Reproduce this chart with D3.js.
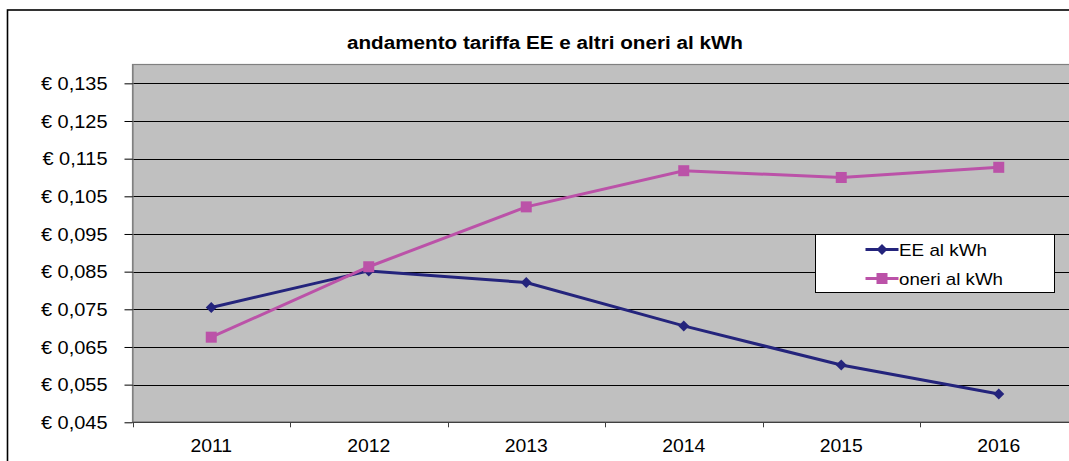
<!DOCTYPE html>
<html>
<head>
<meta charset="utf-8">
<script src="https://cdn.jsdelivr.net/npm/d3@7"></script>
<style>
  body { margin: 0; background: #fff; }
  svg { display: block; font-family: "Liberation Sans", Arial, sans-serif; }
</style>
</head>
<body>
<div id="chart"></div>
<script>
// chart data
const years = ["2011", "2012", "2013", "2014", "2015", "2016"];
const eeValues = [0.0755, 0.0852, 0.0821, 0.0706, 0.0602, 0.0525];
const oneriValues = [0.0676, 0.0863, 0.1022, 0.1118, 0.1100, 0.1127];
const yTicks = [0.045, 0.055, 0.065, 0.075, 0.085, 0.095, 0.105, 0.115, 0.125, 0.135];
const seriesNames = ["EE al kWh", "oneri al kWh"];

const W = 1069, H = 461;
const plot = { left: 132.5, right: 1077.5, top: 64.5, bottom: 422.3 };
const eeColor = "#24247c";
const oneriColor = "#bb52a8";

const svg = d3.select("#chart")
  .append("svg")
  .attr("width", W)
  .attr("height", H);

// the original font runs a bit wide, so stretch to a target width
function fitTo(sel, width) {
  sel.attr("textLength", width).attr("lengthAdjust", "spacingAndGlyphs");
}
function widen(sel, f) {
  sel.each(function() {
    fitTo(d3.select(this), this.getComputedTextLength() * f);
  });
}

// outer chart border
svg.append("rect")
  .attr("x", 7.5).attr("y", 10)
  .attr("width", W + 20).attr("height", H + 20)
  .attr("fill", "#fff")
  .attr("stroke", "#000")
  .attr("stroke-width", 1.6);

// title
const title = svg.append("text")
  .attr("x", 545).attr("y", 48.5)
  .attr("text-anchor", "middle")
  .style("font-size", "17.5px")
  .style("font-weight", "bold")
  .text("andamento tariffa EE e altri oneri al kWh");
fitTo(title, 396);

// scales
const xScale = d3.scaleBand()
  .domain(years)
  .range([plot.left, plot.right])
  .padding(0);

const yScale = d3.scaleLinear()
  .domain([0.045, 0.140])
  .range([plot.bottom, plot.top]);

// plot area
svg.append("rect")
  .attr("x", plot.left).attr("y", plot.top)
  .attr("width", plot.right - plot.left)
  .attr("height", plot.bottom - plot.top)
  .attr("fill", "#c0c0c0")
  .attr("stroke", "#808080")
  .attr("stroke-width", 1.2);

// gridlines
svg.append("g")
  .selectAll("line")
  .data(yTicks.slice(1))
  .enter()
  .append("line")
  .attr("x1", plot.left).attr("x2", plot.right)
  .attr("y1", d => Math.round(yScale(d)) + 0.5)
  .attr("y2", d => Math.round(yScale(d)) + 0.5)
  .attr("stroke", "#000")
  .attr("stroke-width", 1);

// y axis
const fmt = d => "€ " + d3.format(".3f")(d).replace(".", ",");
const yAxis = d3.axisLeft(yScale)
  .tickValues(yTicks)
  .tickFormat(fmt)
  .tickSizeInner(8)
  .tickSizeOuter(0)
  .tickPadding(17);

const gy = svg.append("g")
  .attr("transform", `translate(${plot.left},0)`)
  .call(yAxis);
gy.attr("font-size", null).attr("font-family", null);
gy.select(".domain").attr("stroke", "#808080").attr("stroke-width", 1.2);
gy.selectAll(".tick line").attr("stroke", "#000");
gy.selectAll(".tick text")
  .attr("fill", "#000")
  .style("font-size", "19px");
widen(gy.selectAll(".tick text"), 1.05);

// x axis: ticks sit between categories
const gx = svg.append("g")
  .attr("transform", `translate(0,${plot.bottom})`);
gx.append("line")
  .attr("x1", plot.left).attr("x2", plot.right)
  .attr("stroke", "#404040").attr("stroke-width", 1.2);
gx.selectAll(".sep")
  .data(years)
  .enter()
  .append("line")
  .attr("class", "sep")
  .attr("x1", d => Math.round(xScale(d)) + 0.5)
  .attr("x2", d => Math.round(xScale(d)) + 0.5)
  .attr("y1", 0).attr("y2", 5)
  .attr("stroke", "#404040");
const xl = gx.selectAll(".lab")
  .data(years)
  .enter()
  .append("text")
  .attr("class", "lab")
  .attr("x", d => xScale(d) + xScale.bandwidth() / 2)
  .attr("y", 29.5)
  .attr("text-anchor", "middle")
  .style("font-size", "19px")
  .text(d => d);
widen(xl, 1.02);

// lines
const cx = d => xScale(d) + xScale.bandwidth() / 2;
const lineFor = vals => d3.line()
  .x((d, i) => cx(years[i]))
  .y(d => yScale(d))(vals);

svg.append("path")
  .attr("d", lineFor(eeValues))
  .attr("fill", "none")
  .attr("stroke", eeColor)
  .attr("stroke-width", 3);

svg.append("path")
  .attr("d", lineFor(oneriValues))
  .attr("fill", "none")
  .attr("stroke", oneriColor)
  .attr("stroke-width", 3);

// markers
const diamond = (x, y, r) => `M${x},${y - r}L${x + r},${y}L${x},${y + r}L${x - r},${y}Z`;

svg.append("g")
  .selectAll("path")
  .data(eeValues)
  .enter()
  .append("path")
  .attr("d", (d, i) => diamond(cx(years[i]), yScale(d), 5.5))
  .attr("fill", eeColor);

svg.append("g")
  .selectAll("rect")
  .data(oneriValues)
  .enter()
  .append("rect")
  .attr("x", (d, i) => cx(years[i]) - 5.5)
  .attr("y", d => yScale(d) - 5.5)
  .attr("width", 11)
  .attr("height", 11)
  .attr("fill", oneriColor);

// legend
const legend = svg.append("g")
  .attr("transform", "translate(815.5,234.5)");

legend.append("rect")
  .attr("width", 239)
  .attr("height", 58)
  .attr("fill", "#fff")
  .attr("stroke", "#000")
  .attr("stroke-width", 1);

const rows = [
  { name: seriesNames[0], color: eeColor, y: 15, w: 88 },
  { name: seriesNames[1], color: oneriColor, y: 44, w: 104 }
];

rows.forEach((r, i) => {
  legend.append("line")
    .attr("x1", 50).attr("x2", 83)
    .attr("y1", r.y).attr("y2", r.y)
    .attr("stroke", r.color)
    .attr("stroke-width", 3);
  if (i === 0) {
    legend.append("path").attr("d", diamond(66.5, r.y, 5.5)).attr("fill", r.color);
  } else {
    legend.append("rect")
      .attr("x", 61).attr("y", r.y - 5.5)
      .attr("width", 11).attr("height", 11)
      .attr("fill", r.color);
  }
  const t = legend.append("text")
    .attr("x", 83.5)
    .attr("y", r.y + 6.5)
    .style("font-size", "17px")
    .text(r.name);
  fitTo(t, r.w);
});
</script>
</body>
</html>
